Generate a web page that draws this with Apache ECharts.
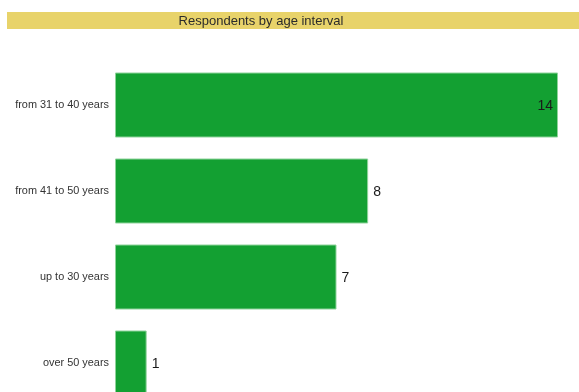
<!DOCTYPE html>
<html><head><meta charset="utf-8">
<script src="https://cdn.jsdelivr.net/npm/echarts@6/dist/echarts.min.js"></script>
<style>html,body{margin:0;padding:0;background:#fff}#c{width:579px;height:392px}</style>
</head><body><div id="c"></div>
<script>
const titleText = 'Respondents by age interval';
const categories = ['from 31 to 40 years', 'from 41 to 50 years', 'up to 30 years', 'over 50 years'];
const values = [14, 8, 7, 1];
const xMax = 14;

const chart = echarts.init(document.getElementById('c'), null, {renderer: 'canvas'});
chart.setOption({
  animation: false,
  backgroundColor: '#ffffff',
  graphic: [{
    type: 'rect', left: 7, top: 12, z: 0,
    shape: {width: 580, height: 17},
    style: {fill: '#E8D36A'}
  }],
  title: {
    text: titleText,
    left: 261, top: 13.5, textAlign: 'center',
    padding: 0,
    textStyle: {fontFamily: 'Liberation Sans, Arial, sans-serif', fontSize: 13, fontWeight: 'normal', color: '#2b2b2b', lineHeight: 16}
  },
  grid: {left: 115, top: 62, width: 443, height: 344, containLabel: false, outerBoundsMode: 'none'},
  xAxis: {type: 'value', min: 0, max: xMax, show: false},
  yAxis: {
    type: 'category', data: categories, inverse: true,
    axisLine: {show: false}, axisTick: {show: false}, splitLine: {show: false},
    axisLabel: {margin: 6, color: '#333333', fontSize: 10.9, fontFamily: 'Liberation Sans, Arial, sans-serif'}
  },
  series: [{
    type: 'bar', data: values.map((v, i) => ({
      value: v,
      label: {position: v === xMax ? 'insideRight' : 'right'}
    })),
    barWidth: 65,
    itemStyle: {color: '#13A032', borderColor: '#8fd39b', borderWidth: 1},
    label: {show: true, distance: 5, color: '#1a1a1a', fontSize: 14, fontFamily: 'Liberation Sans, Arial, sans-serif', offset: [0, 1]}
  }]
});
</script></body></html>
